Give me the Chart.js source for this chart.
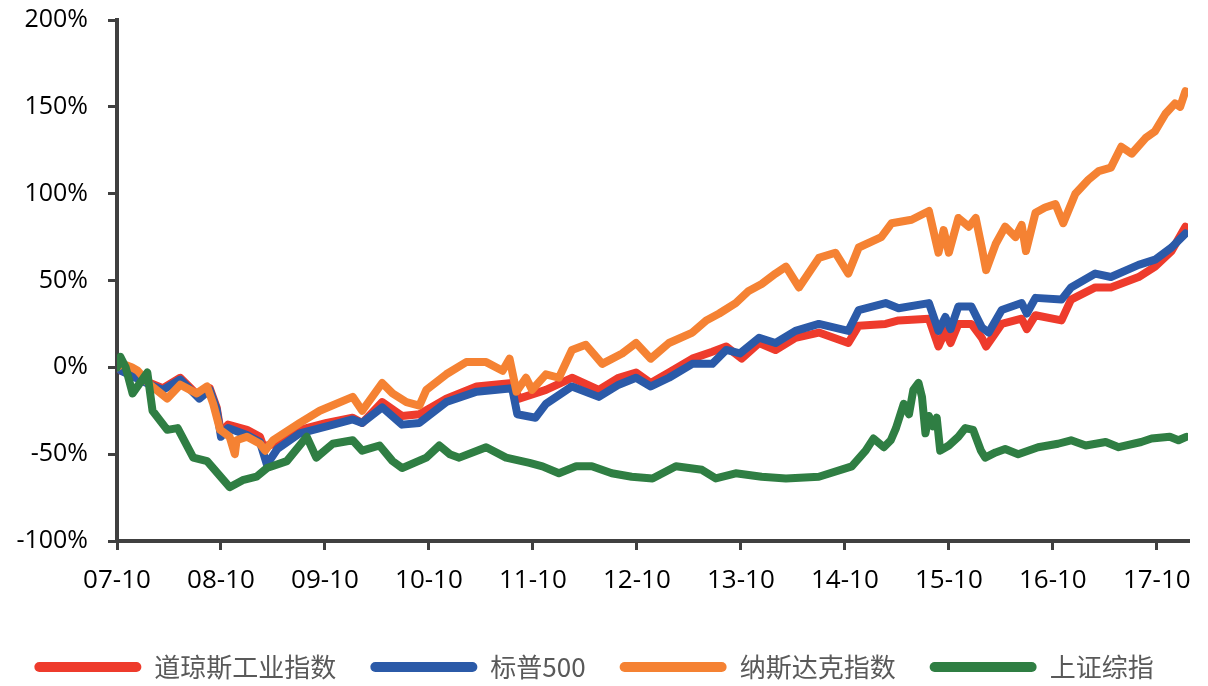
<!DOCTYPE html>
<html>
<head>
<meta charset="utf-8">
<script src="https://cdn.jsdelivr.net/npm/chart.js@4"></script>
<style>
    html, body { margin: 0; padding: 0; background: #fff; }
    #wrap { width: 1208px; height: 686px; position: relative; }
</style>
</head>
<body>
<div id="wrap"><canvas id="chart"></canvas></div>
<script>
// x = months since 2007-10, y = cumulative return in %
const xTickLabels = ["07-10", "08-10", "09-10", "10-10", "11-10", "12-10", "13-10", "14-10", "15-10", "16-10", "17-10"];
const yTicks = [-100, -50, 0, 50, 100, 150, 200];

const seriesNames = ["道琼斯工业指数", "标普500", "纳斯达克指数", "上证综指"];
const seriesColors = ["#EE3B2C", "#2B5AA8", "#F58233", "#2F7E43"];

const dowPoints = [[0,0],[0.5,-2],[1.7,-4],[2.5,-6],[3.8,-9],[5.3,-12],[7.3,-6],[8.5,-12],[9.5,-17],[10.7,-12],[11.5,-23],[12.0,-38],[12.8,-33],[15.0,-36],[16.5,-40],[17.0,-47],[17.3,-45],[18.5,-44],[21.1,-36],[24.2,-32],[27.2,-29],[28.3,-32],[30.6,-20],[32.9,-28],[34.9,-27],[38.0,-18],[41.5,-11],[45.6,-9],[46.4,-18],[49.5,-13],[52.5,-6],[55.6,-13],[57.9,-6],[59.9,-3],[61.6,-9],[63.7,-3],[66.4,5],[68.7,9],[70.3,12],[72.1,5],[74.1,14],[76.0,10],[78.3,17],[81.0,20],[84.4,14],[85.6,24],[88.7,25],[90.2,27],[93.7,28],[94.8,12],[95.6,21],[96.2,14],[97.1,25],[98.6,25],[99.8,17],[100.3,12],[102.1,25],[104.4,28],[105.0,22],[106.0,30],[109.0,27],[110.1,39],[112.9,46],[114.7,46],[117.9,52],[119.8,58],[121.7,67],[123.3,81]];

const spxPoints = [[0,0],[0.5,-2],[1.7,-5],[3.8,-10],[5.3,-13],[7.3,-7],[9.5,-18],[10.7,-13],[11.5,-24],[12.0,-40],[12.8,-35],[15.0,-39],[16.5,-43],[17.3,-56],[18.5,-47],[21.1,-38],[24.2,-34],[27.2,-30],[28.3,-32],[30.6,-23],[32.9,-33],[34.9,-32],[38.0,-20],[41.5,-14],[45.6,-12],[46.2,-27],[48.3,-29],[49.5,-21],[52.5,-11],[55.6,-17],[57.9,-10],[59.9,-6],[61.6,-11],[63.7,-6],[66.4,2],[68.7,2],[70.3,10],[71.9,8],[74.1,17],[76.0,14],[78.3,21],[81.0,25],[84.4,21],[85.6,33],[88.7,37],[90.2,34],[93.7,37],[94.8,21],[95.6,29],[96.2,22],[97.1,35],[98.6,35],[99.8,23],[100.6,20],[102.1,33],[104.4,37],[105.0,31],[106.0,40],[109.0,39],[110.1,46],[112.9,54],[114.7,52],[117.9,59],[119.8,62],[121.7,69],[123.3,77]];

const ndqPoints = [[0,0],[0.6,2],[1.7,0],[2.4,-2],[3.8,-10],[5.8,-18],[7.3,-10],[9.2,-15],[10.4,-11],[11.1,-21],[11.9,-36],[13.0,-40],[13.6,-50],[13.8,-42],[15.0,-40],[16.5,-44],[17.1,-48],[18.0,-42],[21.1,-32],[23.4,-25],[27.2,-17],[28.3,-25],[30.6,-9],[31.8,-15],[33.4,-20],[34.9,-22],[35.7,-13],[38.0,-4],[40.3,3],[42.6,3],[44.5,-2],[45.3,5],[46.1,-14],[47.2,-6],[47.9,-13],[49.5,-4],[51.0,-6],[52.5,10],[54.1,13],[56.0,2],[58.3,8],[59.9,14],[61.6,5],[63.7,14],[66.4,20],[68.0,27],[69.5,31],[71.4,37],[72.9,44],[74.4,48],[76.0,54],[77.2,58],[78.7,46],[81.0,63],[82.9,66],[84.4,54],[85.6,69],[88.2,75],[89.4,83],[91.7,85],[93.7,90],[94.8,66],[95.4,79],[96.0,66],[97.1,86],[98.3,81],[99.1,86],[99.8,69],[100.3,56],[101.4,71],[102.5,81],[103.7,75],[104.4,82],[104.9,67],[106.0,89],[107.1,92],[108.3,94],[109.2,83],[110.6,100],[112.1,108],[113.3,113],[114.7,115],[115.9,127],[117.1,123],[118.7,132],[119.8,136],[121.0,146],[122.1,152],[122.7,150],[123.3,159]];

const shPoints = [[0,0],[0.4,6],[1.0,0],[1.8,-15],[3.5,-3],[4.1,-25],[5.8,-36],[7.0,-35],[8.8,-52],[10.4,-54],[13.0,-69],[14.5,-65],[16.1,-63],[17.3,-58],[19.6,-54],[21.9,-40],[23.0,-52],[24.9,-44],[27.2,-42],[28.3,-48],[30.3,-45],[31.8,-54],[32.9,-58],[35.7,-52],[37.2,-45],[38.4,-50],[39.5,-52],[42.6,-46],[44.9,-52],[47.6,-55],[49.1,-57],[51.0,-61],[53.0,-57],[54.8,-57],[57.1,-61],[59.4,-63],[61.8,-64],[64.5,-57],[67.5,-59],[69.1,-64],[71.4,-61],[74.4,-63],[77.2,-64],[81.0,-63],[84.8,-57],[86.4,-48],[87.3,-41],[88.5,-46],[89.3,-42],[89.9,-35],[90.8,-21],[91.4,-27],[91.9,-13],[92.5,-9],[92.9,-17],[93.3,-38],[93.7,-28],[94.2,-34],[94.6,-29],[95.0,-48],[96.0,-45],[97.1,-40],[97.9,-35],[98.8,-36],[99.7,-48],[100.2,-52],[101.4,-49],[102.5,-47],[104.0,-50],[106.3,-46],[108.6,-44],[110.1,-42],[111.8,-45],[114.1,-43],[115.6,-46],[118.2,-43],[119.4,-41],[121.5,-40],[122.5,-42],[123.4,-40]];

const xMax = 123.6;
const axisColor = "#404040";

function makeDataset(i, points) {
    return {
        label: seriesNames[i],
        data: points.map(p => ({ x: p[0], y: p[1] })),
        borderColor: seriesColors[i],
        backgroundColor: seriesColors[i],
        borderWidth: 8,
        borderJoinStyle: "round",
        borderCapStyle: "round",
        pointRadius: 0,
        tension: 0,
        order: 4 - i   // later series drawn on top, as in the original
    };
}

const ctx = document.getElementById("chart").getContext("2d");
new Chart(ctx, {
    type: "line",
    data: {
        datasets: [
            makeDataset(0, dowPoints),
            makeDataset(1, spxPoints),
            makeDataset(2, ndqPoints),
            makeDataset(3, shPoints)
        ]
    },
    options: {
        responsive: true,
        maintainAspectRatio: false,
        animation: false,
        layout: { padding: { top: 20, right: 20, left: 0, bottom: -4 } },
        plugins: {
            tooltip: { enabled: false },
            legend: {
                position: "bottom",
                labels: {
                    boxWidth: 107,
                    boxHeight: 10,
                    useBorderRadius: true,
                    borderRadius: 5,
                    padding: 34,
                    color: "#595959",
                    font: { family: "'Noto Sans CJK SC', 'Noto Sans'", size: 26 },
                    sort: (a, b) => a.datasetIndex - b.datasetIndex,
                    generateLabels: (chart) => {
                        const items = Chart.defaults.plugins.legend.labels.generateLabels(chart);
                        return items.map(it => ({ ...it, lineWidth: 0, strokeStyle: it.fillStyle }));
                    }
                }
            }
        },
        scales: {
            x: {
                type: "linear",
                min: 0,
                max: xMax,
                afterBuildTicks: (scale) => {
                    scale.ticks = xTickLabels.map((_, i) => ({ value: i * 12 }));
                },
                afterFit: (scale) => { scale.height = 79; },
                ticks: {
                    autoSkip: false,
                    maxRotation: 0,
                    padding: 15,
                    color: "#000",
                    font: { family: "'Open Sans'", size: 26 },
                    callback: (v) => xTickLabels[Math.round(v / 12)]
                },
                grid: {
                    drawOnChartArea: false,
                    drawTicks: true,
                    tickLength: 9,
                    color: axisColor,
                    lineWidth: 3
                },
                border: { display: true, color: axisColor, width: 4 }
            },
            y: {
                min: -100,
                max: 200,
                afterBuildTicks: (scale) => {
                    scale.ticks = yTicks.map(v => ({ value: v }));
                },
                afterFit: (scale) => {
                    scale.width = 117;
                    scale.paddingTop = 0;
                    scale.paddingBottom = 0;
                },
                ticks: {
                    padding: 20,
                    color: "#000",
                    font: { family: "'Open Sans'", size: 25 },
                    callback: (v) => v + "%"
                },
                grid: {
                    drawOnChartArea: false,
                    drawTicks: true,
                    tickLength: 9,
                    color: axisColor,
                    lineWidth: 3
                },
                border: { display: true, color: axisColor, width: 4 }
            }
        }
    }
});
</script>
</body>
</html>
